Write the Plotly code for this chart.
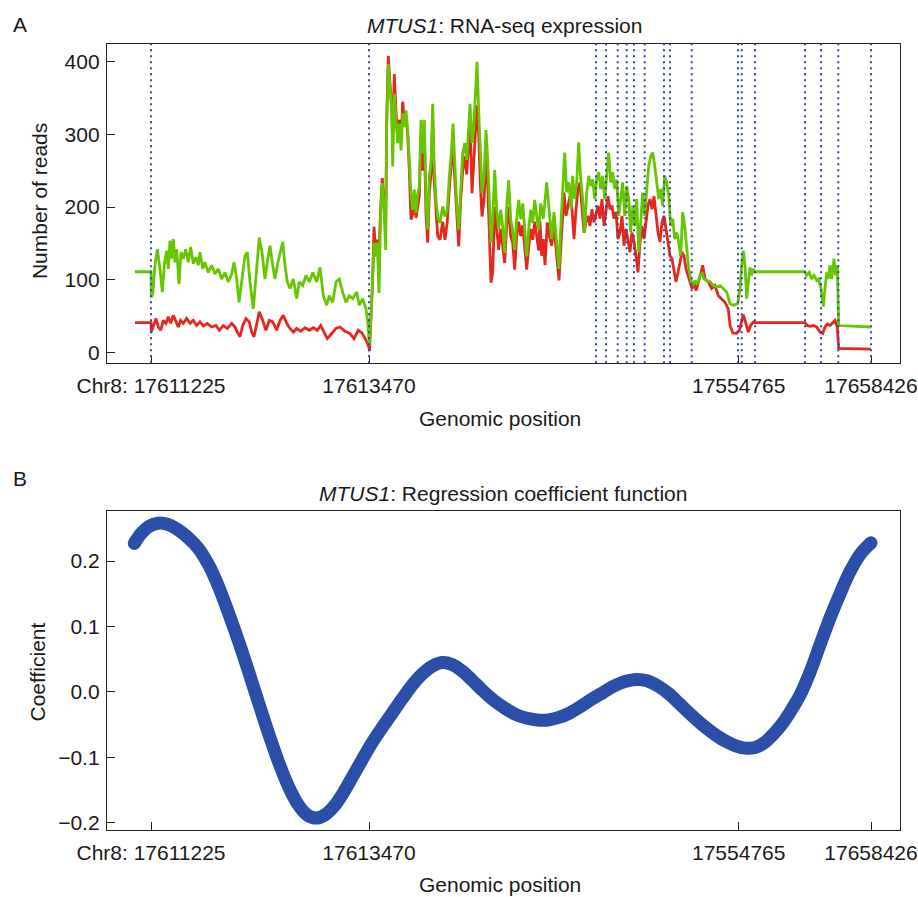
import plotly.graph_objects as go

# ---------------- data: panel A (reads along concatenated exon index) ----------------
green_x = [-16, 0, 0.3, 1.7, 4, 6.3, 9, 11.3, 13.3, 15.7, 17.3, 19, 20.7, 22.3, 24, 25.7, 28, 30, 32.3, 34.7,
           37.3, 39.7, 42.3, 45, 47.3, 49, 51.7, 54, 57.3, 60.7, 64, 67.3, 70.7, 74, 77.3, 80.7, 83, 85.7, 88, 90.7,
           94, 96.3, 99, 102.3, 105, 108.3, 111, 114, 116.3, 119, 121.7, 124, 126.3, 129, 131.7, 134, 136.3, 139,
           142.3, 145.7, 148.3, 151.7, 155, 158.3, 161.7, 165.7, 169, 172.3, 175.7, 178.3, 181.7, 185, 188.3, 191.7,
           195, 198.3, 201.7, 205.7, 208.3, 211.7, 215, 217, 218.3,
           220, 221.7, 223, 224.7, 226.3, 228, 229.7, 231.3, 233, 234.7, 235.7, 237.3, 239, 240.7, 241.7, 243.3, 245,
           246.7, 248.3, 250, 251.7, 253.3, 255, 256.7, 258.3, 260, 261.7, 263.3, 265, 266.7, 268.3, 270, 271.7,
           273.3, 275, 276.7, 278.3, 280, 281.7, 283, 285, 286.7, 289, 291.7, 294, 296.3, 298.3, 300.3, 302, 303.7,
           305.7, 307.7, 309.7, 311.7, 313.7, 315.7, 317.7, 319, 321, 322.7, 324.3, 326, 327.7, 329.3, 331, 333, 335,
           336.7, 338.3, 340, 341.7, 343.7, 345.7, 347.7, 349.7, 351.7, 353.7, 355.7, 357.7, 359.7, 361.7, 363.7,
           365.7, 367.7, 369.7, 371.7, 373.7, 375.7, 377.7, 379.7, 381.7, 383.7, 385.7, 387.7, 389.7, 392.3, 395.7,
           398.3, 400.7, 403, 405.7, 408, 410.3, 412.3, 413.7, 415.7, 418, 420, 421.7, 423.7, 425.7, 427.7, 429.7,
           431.7, 433.7, 435.7, 437.7, 439.7, 441.7, 443.7, 445.7, 447.7, 449.7, 451.7, 453.7, 455.7, 457.7, 459.7,
           461.7, 463.7, 465.7, 467.7, 469.7, 471.7, 473.7, 475.7, 477.7, 479.7, 481.7, 483.7, 485.7, 487.7, 489.7,
           491.7, 493.7, 495.7, 497.7, 499.7, 501.7, 503.7, 505.7, 507.7, 509.7, 511.7, 513.7, 515.7, 517.7, 519.7,
           521.7, 523.7, 525.7, 527.7, 529.7, 531.7, 533.7, 535.7, 537.7, 539.7, 541.7, 544, 546.3, 549, 551, 553,
           555.7, 559, 562.3, 565.7, 569, 572.3, 575.7, 579, 582.3, 586.7, 589, 590.7, 592.3, 594, 595.7, 597.3, 599,
           600.7, 602.3, 604, 654, 655.7, 658.3, 660.7, 663, 665.7, 667.7, 670, 672.3, 674, 675.7, 677.3, 679, 680.7,
           683, 684.7, 686.3, 687.7, 720]
green_reads = [111, 111, 76, 81, 120, 142, 115, 83, 120, 140, 115, 154, 129, 156, 124, 142, 94, 138, 129, 142,
               124, 145, 122, 131, 120, 138, 115, 124, 110, 120, 108, 115, 101, 110, 97, 108, 124, 101, 69, 101,
               133, 138, 97, 60, 110, 158, 138, 101, 124, 147, 120, 101, 120, 138, 152, 120, 97, 88,
               101, 74, 97, 92, 106, 97, 110, 97, 117, 78, 65, 78, 69, 97, 101, 83,
               69, 78, 74, 83, 65, 74, 60, 40, 10,
               50, 96, 151, 132, 151, 82, 196, 233, 196, 141, 310, 397, 365, 333, 256, 356, 320,
               288, 315, 278, 329, 310, 333, 306, 265, 219, 196, 224, 192, 219, 228, 320, 274,
               320, 210, 169, 242, 260, 342, 265, 210, 187, 178, 201, 187, 196, 242, 274, 315, 260,
               205, 169, 233, 274, 288, 265, 310, 342, 288, 310, 352, 400, 333, 265, 219, 242, 306,
               265, 196, 151, 183, 251, 196, 169, 196, 173, 137, 201, 237, 183, 169, 141,
               183, 210, 183, 205, 169, 132, 169, 196, 178, 210, 187, 169, 205, 184, 234,
               197, 156, 193, 156, 115, 188, 234, 275, 220, 234, 197, 243, 211, 234, 289, 238,
               211, 165, 220, 243, 229, 238, 211, 238, 248, 225, 243, 211, 243, 275, 234,
               248, 225, 238, 188, 211, 234, 188, 229, 211, 165, 202, 174, 211, 138, 179,
               220, 188, 225, 257, 270, 275, 257, 229, 211, 225, 202, 243, 234, 216, 174,
               184, 156, 165, 152, 133, 193, 174, 138, 115, 101, 92, 99, 94, 106, 110, 101,
               99, 97, 92, 90, 92, 88, 83, 67, 65, 67, 88, 120, 140, 120, 74, 97, 117,
               106, 115, 111, 111, 106, 110, 101, 106, 99, 101, 88, 63, 88, 110, 101, 120, 101,
               129, 106, 120, 37, 35]

red_x = [-16, 0, 0.3, 2.3, 5, 7.3, 9.7, 12.3, 15, 17.3, 19.7, 22.3, 25, 27.3, 29.7, 32.3, 35.7, 39, 42.3, 45.7,
         49, 52.3, 56.3, 60.7, 65, 68.3, 72.3, 76.3, 80.7, 84, 86.3, 89, 91.7, 95, 98.3, 100.7, 103, 105.7, 108.3,
         111.7, 115, 118.3, 121.7, 125.7, 129, 132.3, 135.7, 139, 142.3, 145.7, 149.7, 154, 158.3, 162.3, 166.3,
         169.7, 173, 176.3, 180.7, 185, 189, 194, 199, 203, 207.3, 211.3, 215, 217.7, 218.5,
         220, 221.7, 223, 224.7, 226.3, 228, 229.7, 231.3, 233, 234.7, 235.7, 237.3, 239, 240.7, 241.7, 243.3, 245,
         246.7, 248.3, 250, 251.7, 253.3, 255, 256.7, 258.3, 260, 261.7, 263.3, 265, 266.7, 268.3, 270, 271.7,
         273.3, 275, 276.7, 278.3, 280, 281.7, 283, 285, 286.7, 289, 291.7, 294, 296.3, 298.3, 300.3, 302, 303.7,
         305.7, 307.7, 309.7, 311.7, 313.7, 315.7, 317.7, 319, 321, 322.7, 324.3, 326, 327.7, 329.3, 331, 333, 335,
         336.7, 338.3, 340, 341.7, 343.7, 345.7, 347.7, 349.7, 351.7, 353.7, 355.7, 357.7, 359.7, 361.7, 363.7,
         365.7, 367.7, 369.7, 371.7, 373.7, 375.7, 377.7, 379.7, 381.7, 383.7, 385.7, 387.7,
         389, 390.7, 392.3, 394, 396.3, 398.3, 400.7, 403, 405.7, 408, 410.3, 413, 415, 417, 419, 421, 423, 425, 427,
         429, 431, 433, 435, 437, 439, 441, 443, 445, 447, 449, 451, 453, 455, 457, 459, 461, 463, 465, 467, 469,
         471, 473, 475, 477, 479, 481, 483, 485, 487, 489, 491, 493, 495, 497, 499, 501, 503, 505, 507, 509, 511,
         513, 515, 517, 519, 521, 523, 525, 527, 529, 531, 533, 535, 537, 539, 541, 543, 545, 547, 549, 551.7, 554,
         557.3, 560.7, 564, 567.3, 570.7, 574, 577.3, 579, 581.7, 585, 588.3, 590.7, 592.3, 594, 595.7, 597.3,
         599.7, 602.3, 604, 654, 656.3, 659, 662.3, 665.7, 669, 671.7, 674, 676.3, 679, 681.7, 684, 686.3, 687.7,
         720]
red_reads = [41, 41, 28, 37, 46.6, 35, 30.5, 44, 40, 49, 40, 51, 42, 35, 44, 40, 46.6, 40, 44, 37,
             42, 36.5, 40, 35, 37, 30.5, 37, 33, 40, 35, 28, 21.5, 37, 46.6, 42, 28, 21.5, 40, 56,
             44, 30.5, 44, 42, 30.5, 44, 51, 40, 33, 28, 33, 29, 34, 30.5, 34, 30.5,
             37, 28, 19, 26, 33, 35, 29, 26, 19, 30.5, 26, 17, 8, 2,
             45, 100, 173, 140, 155, 135, 200, 240, 200, 180, 320, 408, 370, 340, 290, 383, 330,
             300, 320, 290, 345, 320, 325, 300, 250, 183, 190, 210, 185, 200, 215, 300, 250,
             300, 190, 151, 220, 245, 320, 240, 195, 160, 155, 180, 155, 180, 225, 255, 290, 240,
             190, 146, 210, 250, 270, 245, 290, 320, 219, 270, 300, 340, 300, 233, 187, 210, 270,
             230, 160, 96, 110, 200, 170, 141, 170, 150, 123, 175, 200, 160, 151, 114,
             160, 180, 160, 175, 140, 114, 145, 170, 155, 180, 160, 140,
             180, 133, 156, 120, 179, 161, 147, 174, 133, 99, 156, 220, 188, 202, 215, 197, 156, 197, 225,
             234, 202, 165, 179, 188, 174, 197, 179, 193, 202, 184, 211, 174, 197, 215, 197, 202, 184, 193, 156, 165,
             188, 147, 170, 152, 138, 165, 152, 133, 110, 152, 174, 156, 179, 202, 211, 197, 215, 188, 165, 152, 179,
             188, 170, 147, 133, 129, 115, 97, 110, 124, 138, 133, 115, 106, 97, 88, 97, 85, 94, 106, 120, 101,
             97, 88, 92, 78, 74, 69, 60, 37, 27, 26, 30, 44, 52, 44, 37, 28,
             37, 42, 41, 41, 37, 36, 37, 35, 28, 26, 35, 39, 37, 41, 44, 35, 5.5,
             4.5]

exon_boundaries = [0, 218, 445, 455, 466.7, 475.7, 483, 493.7, 513, 519, 540.7, 587, 590.7, 604, 654, 670, 687.3, 720]

tick_pos = [0, 218, 587.7, 720]
tick_text = ["Chr8: 17611225", "17613470", "17554765", "17658426"]

reads_ticks = [0, 100, 200, 300, 400]

# ---------------- data: panel B (regression coefficient function) ----------------
coef_x = [-16.7, -10, -2, 7, 17, 27, 37, 47, 57, 67, 77, 87, 97, 107, 117, 127, 137, 147, 156, 165, 174, 183,
          192, 201, 211, 221, 231, 241, 251, 261, 271, 281, 291, 301, 311, 321, 331, 342, 353, 364, 375, 386,
          397, 408, 419, 430, 441, 452, 463, 474, 485, 496, 507, 518, 529, 540, 551, 562, 573, 584, 594, 604,
          614, 624, 633, 641, 649, 659, 669, 679, 689, 699, 709, 720]
coef_val = [0.227, 0.242, 0.253, 0.258, 0.256, 0.248, 0.236, 0.220, 0.196, 0.163, 0.123, 0.080, 0.034, -0.014,
            -0.061, -0.105, -0.143, -0.172, -0.188, -0.193, -0.188, -0.175, -0.155, -0.131, -0.104, -0.078,
            -0.055, -0.033, -0.011, 0.010, 0.027, 0.039, 0.045, 0.042, 0.032, 0.018, 0.003, -0.012, -0.024,
            -0.034, -0.040, -0.043, -0.043, -0.039, -0.032, -0.022, -0.011, -0.001, 0.009, 0.016, 0.019, 0.017,
            0.009, -0.003, -0.019, -0.035, -0.050, -0.063, -0.074, -0.082, -0.086, -0.085, -0.077, -0.062,
            -0.045, -0.026, -0.005, 0.030, 0.072, 0.113, 0.150, 0.184, 0.210, 0.228]
coef_ticks = [-0.2, -0.1, 0.0, 0.1, 0.2]
coef_ticktext = ["\u22120.2", "\u22120.1", "0.0", "0.1", "0.2"]

# ---------------- figure ----------------
W, H = 918, 897
ML, MR = 107, 18
FONT = "Liberation Sans, Arial, Helvetica, sans-serif"
TXT = "#1a1a1a"
fig = go.Figure()

fig.add_trace(go.Scatter(x=red_x, y=red_reads, mode="lines", line=dict(color="#e3281e", width=2.8),
                         xaxis="x", yaxis="y", hoverinfo="skip"))
fig.add_trace(go.Scatter(x=green_x, y=green_reads, mode="lines", line=dict(color="#66c600", width=2.8),
                         xaxis="x", yaxis="y", hoverinfo="skip"))

fig.add_trace(go.Scatter(x=coef_x, y=coef_val, mode="lines",
                         line=dict(color="#2b4ea8", width=13, shape="spline", smoothing=1.0),
                         xaxis="x2", yaxis="y2", hoverinfo="skip"))
# rounded ends of the thick curve
fig.add_trace(go.Scatter(x=[coef_x[0], coef_x[-1]], y=[coef_val[0], coef_val[-1]], mode="markers",
                         marker=dict(color="#2b4ea8", size=13),
                         xaxis="x2", yaxis="y2", hoverinfo="skip"))

for xb in exon_boundaries:
    fig.add_shape(type="line", xref="x", yref="y domain", x0=xb, x1=xb, y0=0, y1=1,
                  line=dict(color="#3042b8", width=2, dash="2px,4px"), layer="above")

def py(p):
    return 1 - p / H

def px(p):
    return (p - ML) / (W - ML - MR)

axis_common = dict(showline=True, mirror=True, linecolor="#222", linewidth=1.3, ticks="inside",
                   ticklen=8, tickwidth=1.3, tickcolor="#222", showgrid=False, zeroline=False,
                   tickfont=dict(family=FONT, size=21, color=TXT))

fig.update_layout(
    width=W, height=H, showlegend=False,
    paper_bgcolor="white", plot_bgcolor="white",
    margin=dict(l=ML, r=MR, t=0, b=0),
    xaxis=dict(domain=[0, 1], range=[-44, 749], tickvals=tick_pos, ticktext=tick_text,
               anchor="y", ticklabelstandoff=3, **axis_common),
    yaxis=dict(domain=[py(365), py(44)], range=[-15.07, 424.7], tickvals=reads_ticks,
               anchor="x", ticklabelstandoff=2, **axis_common),
    xaxis2=dict(domain=[0, 1], range=[-44, 749], tickvals=tick_pos, ticktext=tick_text,
                anchor="y2", ticklabelstandoff=3, **axis_common),
    yaxis2=dict(domain=[py(834), py(513.3)], range=[-0.2116, 0.2766], tickvals=coef_ticks,
                ticktext=coef_ticktext, anchor="x2", ticklabelstandoff=2, **axis_common),
)

def ann(text, x, y, size=21, angle=0, xanchor="center"):
    fig.add_annotation(text=text, xref="paper", yref="paper", x=px(x), y=py(y), showarrow=False,
                       xanchor=xanchor, yanchor="middle", textangle=angle,
                       font=dict(family=FONT, size=size, color=TXT))

ann("A", 11, 25, size=21, xanchor="left")
ann("B", 11, 480.5, size=21, xanchor="left")
ann("<i>MTUS1</i>: RNA-seq expression", 504, 25.7)
ann("<i>MTUS1</i>: Regression coefficient function", 503, 495.5)
ann("Genomic position", 500, 420.5)
ann("Genomic position", 500, 888)
ann("Number of reads", 39, 202, angle=-90)
ann("Coefficient", 37, 675.5, angle=-90)

fig.write_html("out.html", config={"displayModeBar": False},
               post_script="document.body.style.margin='0px';document.body.style.overflow='hidden';")
